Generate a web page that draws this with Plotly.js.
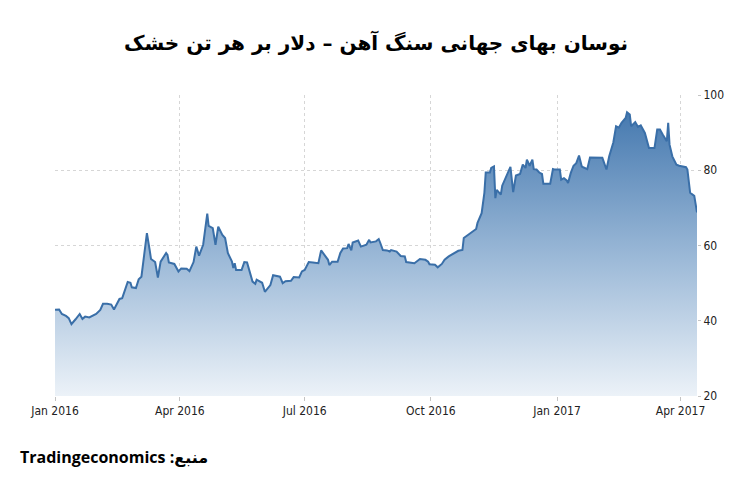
<!DOCTYPE html>
<html>
<head>
<meta charset="utf-8">
<script src="https://cdn.plot.ly/plotly-3.0.1.min.js"></script>
<style>
  html, body { margin: 0; padding: 0; background: #fff; }
  #chart { width: 750px; height: 489px; }
</style>
</head>
<body>
<div id="chart"></div>
<script>
// iron ore price, USD per dry ton
var dates = [
  '2016-01-01','2016-01-04','2016-01-06','2016-01-09','2016-01-11','2016-01-13','2016-01-16','2016-01-19','2016-01-21','2016-01-23',
  '2016-01-26','2016-01-28','2016-01-31','2016-02-03','2016-02-05','2016-02-08','2016-02-11','2016-02-13','2016-02-15','2016-02-17',
  '2016-02-19','2016-02-20','2016-02-23','2016-02-25','2016-02-26','2016-02-29','2016-03-02','2016-03-04','2016-03-05','2016-03-08',
  '2016-03-10','2016-03-11','2016-03-14','2016-03-16','2016-03-18','2016-03-22','2016-03-23','2016-03-24','2016-03-28','2016-03-31',
  '2016-04-02','2016-04-06','2016-04-08','2016-04-11','2016-04-13','2016-04-15','2016-04-18','2016-04-21','2016-04-22','2016-04-25',
  '2016-04-27','2016-04-29','2016-05-02','2016-05-04','2016-05-06','2016-05-09','2016-05-10','2016-05-11','2016-05-12','2016-05-16',
  '2016-05-18','2016-05-20','2016-05-24','2016-05-26','2016-05-27','2016-05-31','2016-06-02','2016-06-06','2016-06-08','2016-06-13',
  '2016-06-15','2016-06-17','2016-06-21','2016-06-23','2016-06-27','2016-06-29','2016-07-01','2016-07-04','2016-07-07','2016-07-11',
  '2016-07-13','2016-07-15','2016-07-18','2016-07-19','2016-07-21','2016-07-25','2016-07-27','2016-07-29','2016-08-01','2016-08-02',
  '2016-08-04','2016-08-05','2016-08-09','2016-08-11','2016-08-15','2016-08-17','2016-08-18','2016-08-22','2016-08-24','2016-08-25',
  '2016-08-27','2016-08-30','2016-09-01','2016-09-02','2016-09-06','2016-09-09','2016-09-12','2016-09-13','2016-09-19','2016-09-23',
  '2016-09-27','2016-09-29','2016-09-30','2016-10-04','2016-10-06','2016-10-09','2016-10-11','2016-10-14','2016-10-18','2016-10-21',
  '2016-10-24','2016-10-25','2016-10-28','2016-10-31','2016-11-03','2016-11-04','2016-11-07','2016-11-09','2016-11-10','2016-11-13',
  '2016-11-14','2016-11-16','2016-11-17','2016-11-18','2016-11-21','2016-11-22','2016-11-25','2016-11-28','2016-11-30','2016-12-02',
  '2016-12-05','2016-12-07','2016-12-09','2016-12-10','2016-12-12','2016-12-14','2016-12-15','2016-12-17','2016-12-19','2016-12-21',
  '2016-12-22','2016-12-27','2016-12-29','2016-12-30','2017-01-03','2017-01-04','2017-01-06','2017-01-08','2017-01-09','2017-01-11',
  '2017-01-13','2017-01-15','2017-01-17','2017-01-19','2017-01-20','2017-01-23','2017-01-25','2017-01-29','2017-02-03','2017-02-06',
  '2017-02-08','2017-02-11','2017-02-13','2017-02-15','2017-02-17','2017-02-20','2017-02-21','2017-02-23','2017-02-24','2017-02-27',
  '2017-03-01','2017-03-03','2017-03-05','2017-03-06','2017-03-09','2017-03-13','2017-03-15','2017-03-17','2017-03-19','2017-03-21',
  '2017-03-22','2017-03-23','2017-03-24','2017-03-26','2017-03-29','2017-03-31','2017-04-03','2017-04-05','2017-04-06','2017-04-08',
  '2017-04-11','2017-04-13'
];
var prices = [
  42.9,43.0,41.8,41.3,40.7,39.1,40.4,41.8,40.5,41.1,
  40.9,41.3,41.8,42.9,44.5,44.5,44.3,43.0,44.6,45.8,
  46.0,47.1,50.3,50.1,48.9,48.7,51.0,51.7,54.8,63.3,
  58.8,56.4,55.6,51.5,55.7,58.0,57.5,55.5,55.1,53.1,
  53.9,53.8,53.2,55.6,59.7,57.3,60.2,68.5,65.2,64.6,
  60.2,65.0,62.8,62.0,58.0,55.7,54.0,55.3,53.5,53.5,
  55.6,55.5,50.4,49.8,50.9,50.1,47.7,49.5,52.1,51.7,
  50.0,50.5,50.6,51.6,51.5,53.1,53.5,55.6,55.5,55.3,
  58.7,57.7,56.2,54.8,55.7,55.7,58.0,59.2,59.3,60.4,
  58.7,60.8,61.3,59.7,60.2,61.5,60.8,61.1,61.7,60.8,
  58.8,58.7,58.4,58.8,58.4,57.2,57.1,55.6,55.3,56.4,
  56.2,55.7,55.0,54.9,54.2,55.1,56.2,57.1,58.0,58.6,
  58.8,62.0,62.8,63.7,64.4,66.0,68.6,74.0,79.4,79.4,
  80.6,81.0,72.6,74.8,73.5,75.9,78.4,80.9,74.2,78.6,
  79.0,81.5,80.6,82.8,81.2,82.8,80.3,80.2,79.4,79.0,
  76.4,76.4,80.3,80.2,80.2,77.5,77.9,77.3,76.6,79.3,
  81.2,81.9,83.9,81.0,80.8,80.3,83.4,83.4,83.3,80.2,
  83.7,87.4,91.7,91.3,92.6,93.9,95.4,94.8,91.7,92.8,
  91.5,91.9,90.8,89.9,85.9,85.9,90.8,90.8,89.5,88.1,
  87.7,92.6,86.8,83.7,81.5,81.2,80.9,80.8,80.2,74.0,
  73.2,68.8
];
var xTickVals = ['2016-01-01','2016-04-01','2016-07-01','2016-10-01','2017-01-01','2017-04-01'];
var xTickText = ['Jan 2016','Apr 2016','Jul 2016','Oct 2016','Jan 2017','Apr 2017'];
var yTickVals = [20, 40, 60, 80, 100];

var titleText = 'نوسان بهای جهانی سنگ آهن – دلار بر هر تن خشک';
var sourceText = 'Tradingeconomics :منبع';

var trace = {
  x: dates,
  y: prices,
  type: 'scatter',
  mode: 'lines',
  line: { color: '#3a6fa8', width: 2 },
  fill: 'tozeroy',
  fillgradient: {
    type: 'vertical',
    start: 20,
    stop: 100,
    colorscale: [[0, '#ecf2f8'], [0.45, '#9dbad8'], [1, '#3c72ab']]
  },
  hoverinfo: 'skip'
};

var tickFont = { family: 'Liberation Sans Narrow, DejaVu Sans Condensed, sans-serif', size: 12, color: '#222' };

var layout = {
  width: 750,
  height: 489,
  showlegend: false,
  paper_bgcolor: '#fff',
  plot_bgcolor: '#fff',
  margin: { l: 55, r: 53, t: 95, b: 93 },
  title: {
    text: '<b>' + titleText + '</b>',
    x: 0.5,
    xref: 'paper',
    y: 0.912,
    yanchor: 'middle',
    font: { family: 'DejaVu Sans, sans-serif', size: 20, color: '#000' }
  },
  xaxis: {
    type: 'date',
    range: ['2016-01-01', '2017-04-13'],
    tickvals: xTickVals,
    ticktext: xTickText,
    tickfont: tickFont,
    ticks: 'outside',
    ticklen: 4,
    tickcolor: '#c4c4c4',
    showgrid: true,
    gridcolor: '#d6d6d6',
    griddash: 'dot',
    zeroline: false,
    showline: false,
    fixedrange: true
  },
  yaxis: {
    side: 'right',
    range: [20, 100],
    tickvals: yTickVals,
    tickfont: tickFont,
    ticks: 'outside',
    ticklen: 3,
    tickcolor: '#c4c4c4',
    showgrid: true,
    gridcolor: '#d6d6d6',
    griddash: 'dot',
    zeroline: false,
    showline: false,
    fixedrange: true
  },
  annotations: [{
    text: '<b>' + sourceText + '</b>',
    xref: 'paper', yref: 'paper',
    x: -0.0575, y: -0.203,
    xanchor: 'left', yanchor: 'middle',
    showarrow: false,
    font: { family: 'Open Sans, DejaVu Sans, sans-serif', size: 16, color: '#000' }
  }]
};

Plotly.newPlot('chart', [trace], layout, { staticPlot: true });
</script>
</body>
</html>
